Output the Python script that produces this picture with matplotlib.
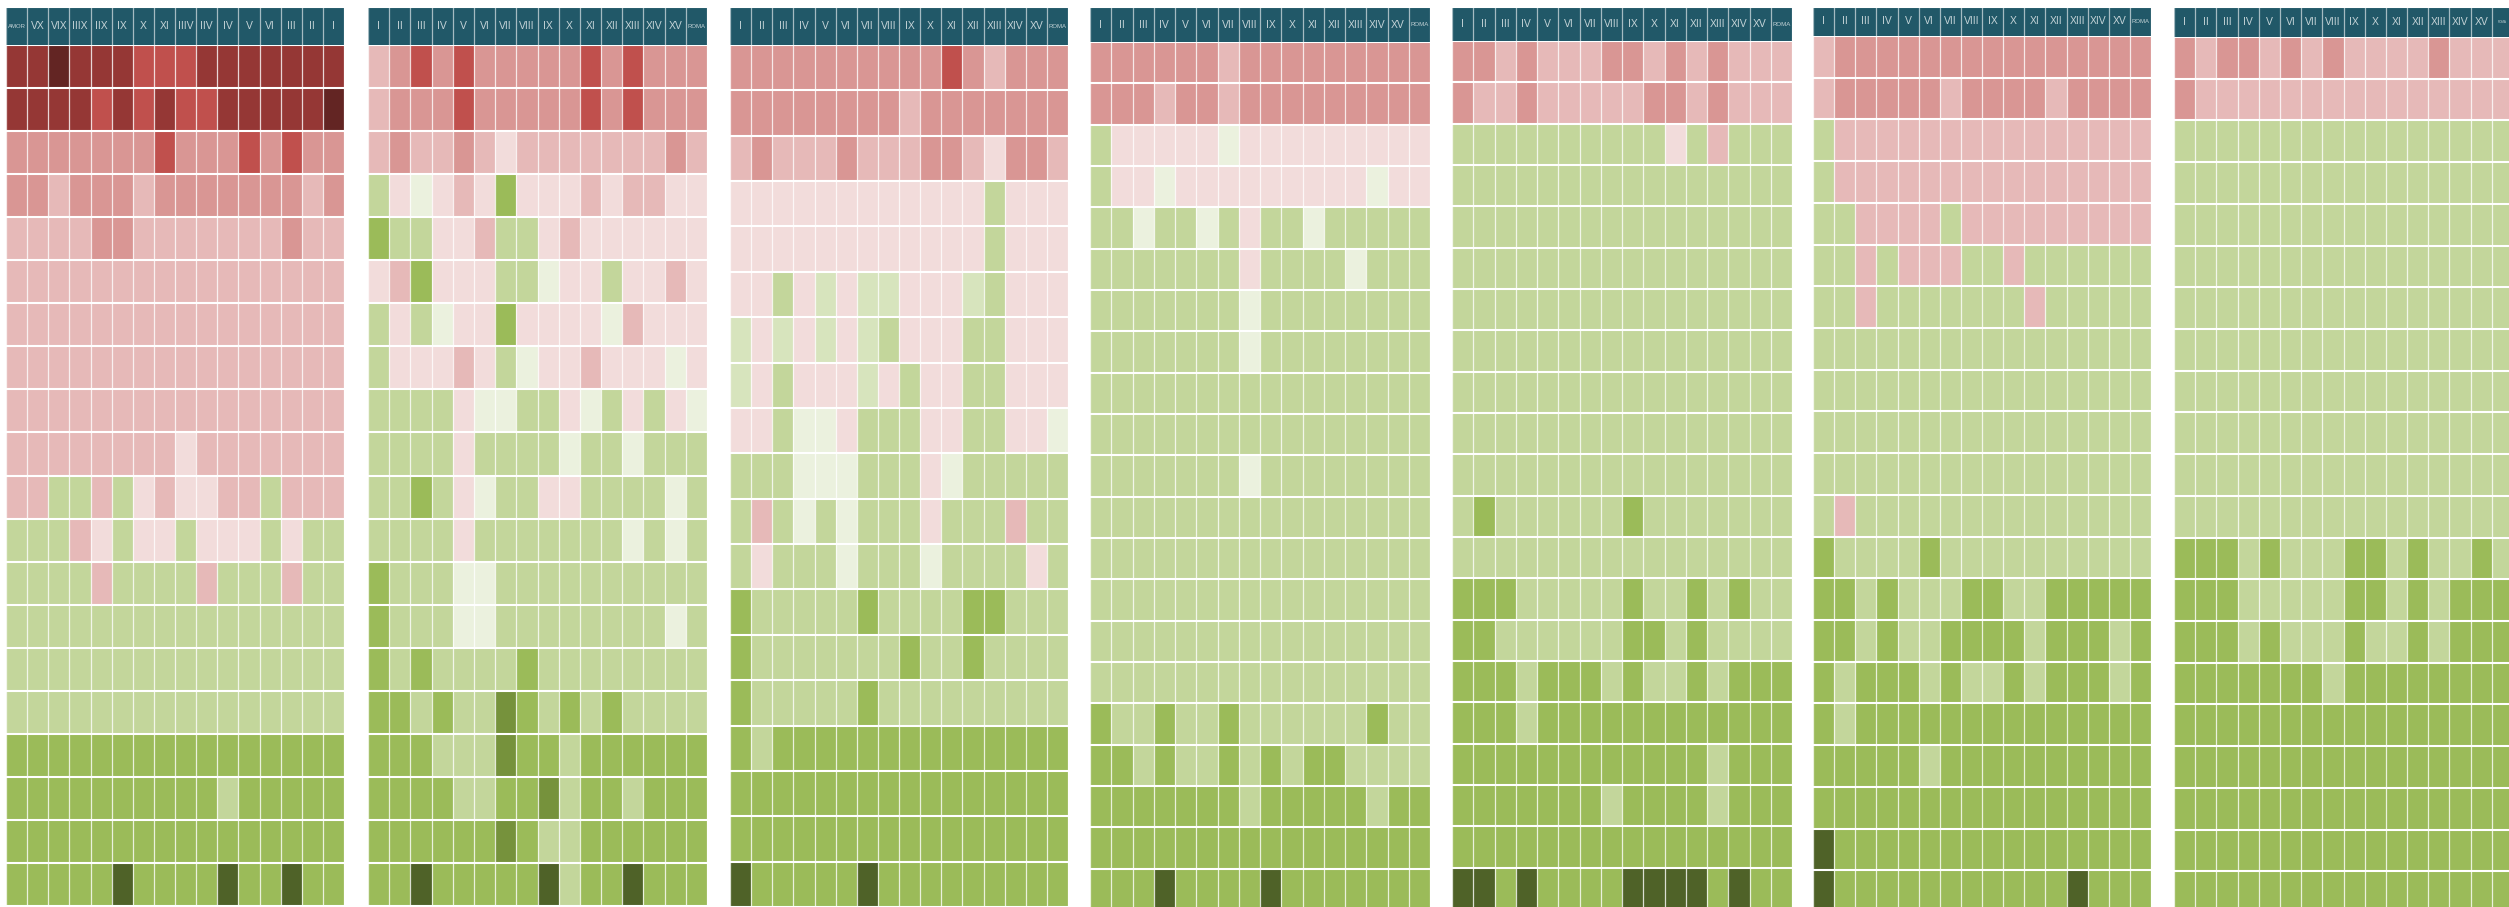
import matplotlib
matplotlib.use('Agg')
import numpy as np
import matplotlib.pyplot as plt
from matplotlib.colors import ListedColormap, BoundaryNorm

# colour levels, 0 = darkest red ... 11 = darkest green (hex digit per cell below)
level_colors = ['#632523', '#953735', '#C0504D', '#D99694', '#E6B9B8', '#F2DCDB',
                '#EBF1DE', '#D7E4BD', '#C3D69B', '#9BBB59', '#76923C', '#4F6228']
header_color = '#215868'
header_text = '#c3d2d6'

roman = ['I', 'II', 'III', 'IV', 'V', 'VI', 'VII', 'VIII', 'IX', 'X',
         'XI', 'XII', 'XIII', 'XIV', 'XV', 'ROMA']
labels_1 = ['AMOR', 'VX', 'VIX', 'IIIX', 'IIX', 'IX', 'X', 'XI',
            'IIIV', 'IIV', 'IV', 'V', 'VI', 'III', 'II', 'I']

panel_1 = ['1101112221111111', '1111212122111110', '3333333233323233', '3343334333333343',
           '4444334444444344', '4444444444444444', '4444444444444444', '4444444444444444',
           '4444444444444444', '4444444454444444', '4488485455448444', '8884585585558588',
           '8888488884888488', '8888888888888888', '8888888888888888', '8888888888888888',
           '9999999999999999', '9999999999899999', '9999999999999999', '99999b9999b99b99']

panel_2 = ['4323233333232333', '4333233333232333', '4344345444444434', '8565459555454455',
           '9885548854555555', '5495558865585545', '8586559555564555', '8555458655455565',
           '8888566885685856', '8888588886886888', '8898568855888868', '8888588888886868',
           '9888668888888888', '9888668888888868', '9898888988888888', '998988a989898888',
           '999888a998999999', '99998899a8998999', '999999a988999999', '99b99999b899b999']

panel_3 = ['3333333333234333', '3333333343333333', '4344434443345334', '5555555555558555',
           '5555555555558555', '5585757755578555', '7575757855588555', '7585557585588555',
           '5586658885588556', '8886668885688888', '8486868885888488', '8588868886888858',
           '9888889888899888', '9888888898898888', '9888889888888888', '9899999999999999',
           '9999999999999999', '9999999999999999', 'b99999b999999999']

panel_4 = ['3333334333333333', '3334334333333333', '8555556555555555', '8556555555555655',
           '8868868588688888', '8888888588886888', '8888888688888888', '8888888688888888',
           '8888888888888888', '8888888888888888', '8888888688888888', '8888888888888888',
           '8888888888888888', '8888888888888888', '8888888888888888', '8888888888888888',
           '9889889888888988', '9989889898998888', '9999999899999899', '9999999999999999',
           '999b9999b9999999']

panel_5 = ['3343444334343444', '3443444443343444', '8888888888584888', '8888888888888888',
           '8888888888888888', '8888888888888888', '8888888888888888', '8888888888888888',
           '8888888888888888', '8888888888888888', '8888888888888888', '8988888898888888',
           '8888888888888888', '9998888898898988', '9988888899898888', '9998999898898999',
           '9998999999999999', '9999999999998999', '9999999899998999', '9999999999999999',
           'bb9b9999bbbb9b99']

panel_6 = ['4333333333333333', '4333334333343333', '8444444444444444', '8444444444444444',
           '8844448444444444', '8848444884888888', '8848888888488888', '8888888888888888',
           '8888888888888888', '8888888888888888', '8888888888888888', '8488888888888888',
           '9888898888888888', '9989888998899999', '9989889999899989', '9899989889899989',
           '9899999999999999', '9999989999999999', '9999999999999999', 'b999999999999999',
           'b99999999999b999']

panel_7 = ['3433434344443444', '3444444444444444', '8888888888888888', '8888888888888888',
           '8888888888888888', '8888888888888888', '8888888888888888', '8888888888888888',
           '8888888888888888', '8888888888888888', '8888888888888888', '8888888888888888',
           '9998988899898898', '9998888899898999', '9998988898898999', '9999999899999999',
           '9999999999999999', '9999999999999999', '9999999999999999', '9999999999999999',
           '9999999999999999']

W, H = 2509, 907
fig = plt.figure(figsize=(W / 100, H / 100), dpi=100)

cmap = ListedColormap(level_colors)
norm = BoundaryNorm(np.arange(-0.5, 12.5, 1), cmap.N)

panels = [(panel_1, labels_1), (panel_2, roman), (panel_3, roman), (panel_4, roman),
          (panel_5, roman), (panel_6, roman), (panel_7, roman)]
lefts = [6, 368, 730, 1090, 1452, 1813, 2174]
rights = [344, 707, 1068, 1430, 1792, 2151, 2513]
header_bottoms = [45, 45, 45, 42, 41, 36, 37]
bottoms = [906, 906, 907, 910, 909, 912, 913]
top = 7
base_size = 7.5

texts = []
for (rows, labels), x0, x1, hb, yb in zip(panels, lefts, rights, header_bottoms, bottoms):
    grid = np.array([[int(c, 16) for c in r] for r in rows])
    nrows, ncols = grid.shape

    # body
    ax = fig.add_axes([x0 / W, (H - yb) / H, (x1 - x0) / W, (yb - hb) / H])
    ax.pcolormesh(grid, cmap=cmap, norm=norm)
    ax.hlines(np.arange(nrows + 1), 0, ncols, colors='white', linewidth=1.5)
    ax.vlines(np.arange(ncols + 1), 0, nrows, colors='white', linewidth=0.9, alpha=0.8)
    ax.set_xlim(0, ncols)
    ax.set_ylim(nrows, 0)
    ax.axis('off')

    # header
    hx = fig.add_axes([x0 / W, (H - hb) / H, (x1 - x0) / W, (hb - top) / H])
    hx.pcolormesh(np.zeros((1, ncols)), cmap=ListedColormap([header_color]))
    hx.hlines([0], 0, ncols, colors='white', linewidth=1.5)
    hx.vlines(np.arange(ncols + 1), 0, 1, colors='white', linewidth=0.9, alpha=0.6)
    cell_w = (x1 - x0) / ncols
    for i, lab in enumerate(labels):
        xpos = x0 + (i + 0.5) * cell_w
        t = hx.text(i + 0.5, 0.5, lab, ha='center', va='center', color=header_text,
                    fontsize=base_size, family=['Liberation Sans Narrow', 'Liberation Sans'])
        texts.append((t, cell_w, xpos))
    hx.set_xlim(0, ncols)
    hx.set_ylim(1, 0)
    hx.axis('off')

# shrink header labels that are wider than their cell
fig.canvas.draw()
renderer = fig.canvas.get_renderer()
for t, cell_w, xpos in texts:
    w = t.get_window_extent(renderer).width
    limit = cell_w * 0.86
    if xpos + cell_w / 2 > W:
        limit = min(limit, 2 * (W - 2 - xpos))
    if w > limit:
        t.set_fontsize(base_size * limit / w)

fig.savefig('out.png', dpi=100)
